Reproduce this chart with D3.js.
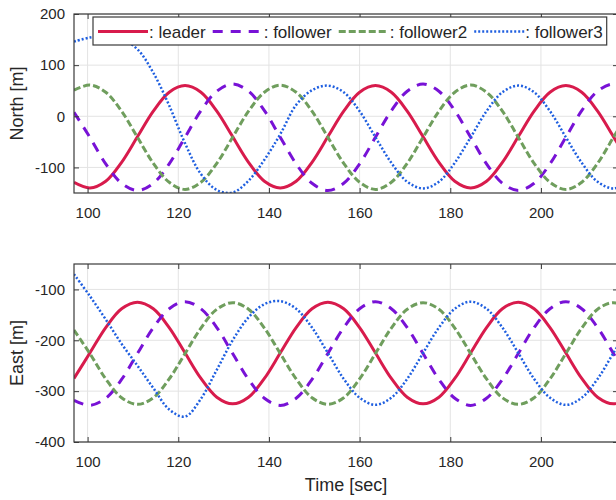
<!DOCTYPE html>
<html>
<head>
<meta charset="utf-8">
<script src="https://cdn.jsdelivr.net/npm/d3@7"></script>
<style>
  body { margin: 0; background: #fff; }
  text { font-family: "Liberation Sans", Arial, sans-serif; }
</style>
</head>
<body>
<script>

// time samples (sec)
var time = [97, 100.5, 104, 107.5, 111, 114.5, 118, 121.5, 125, 128.5, 132, 135.5,
            139, 142.5, 146, 149.5, 153, 156.5, 160, 163.5, 167, 170.5, 174, 177.5,
            181, 184.5, 188, 191.5, 195, 198.5, 202, 205.5, 209, 212.5, 216, 219.5];

// North [m]
var leaderNorth    = [-129, -140, -127, -90, -40, 10, 47, 60, 47, 10, -40, -90, -127, -140, -127, -90, -40, 10,
                      47, 60, 47, 10, -40, -90, -127, -140, -127, -90, -40, 10, 47, 60, 47, 10, -40, -90];
var followerNorth  = [8, -41, -93, -131, -145, -131, -93, -41, 11, 49, 63, 49, 11, -41, -93, -131, -145, -131,
                      -93, -41, 11, 49, 63, 49, 11, -41, -93, -131, -145, -131, -93, -41, 11, 49, 63, 49];
var follower2North = [51, 61, 47, 10, -41, -92, -129, -143, -129, -92, -41, 10, 47, 61, 47, 10, -41, -92,
                      -129, -143, -129, -92, -41, 10, 47, 61, 47, 10, -41, -92, -129, -143, -129, -92, -41, 10];
var follower3North = [146, 154, 157, 151, 131, 85, 21, -53, -113, -144, -149, -126, -85, -35, 22, 51, 60, 47,
                      10, -41, -91, -128, -141, -128, -91, -41, 10, 47, 60, 47, 10, -41, -91, -128, -141, -128];

// East [m]
var leaderEast    = [-275, -225, -175, -138, -125, -138, -175, -225, -275, -312, -325, -312, -275, -225, -175, -138, -125, -138,
                     -175, -225, -275, -312, -325, -312, -275, -225, -175, -138, -125, -138, -175, -225, -275, -312, -325, -312];
var followerEast  = [-318, -328, -314, -277, -226, -175, -138, -124, -138, -175, -226, -277, -314, -328, -314, -277, -226, -175,
                     -138, -124, -138, -175, -226, -277, -314, -328, -314, -277, -226, -175, -138, -124, -138, -175, -226, -277];
var follower2East = [-180, -226, -276, -313, -326, -313, -276, -226, -176, -139, -126, -139, -176, -226, -276, -313, -326, -313,
                     -276, -226, -176, -139, -126, -139, -176, -226, -276, -313, -326, -313, -276, -226, -176, -139, -126, -139];
var follower3East = [-70, -113, -159, -207, -250, -294, -336, -350, -315, -258, -200, -155, -129, -123, -138, -175, -225, -276,
                     -313, -327, -313, -276, -225, -175, -138, -124, -138, -175, -225, -276, -313, -327, -313, -276, -225, -175];

var names = [": leader", ": follower", ": follower2", ": follower3"];
var xTicks = [100, 120, 140, 160, 180, 200, 220];
var northTicks = [-100, 0, 100, 200];
var eastTicks = [-400, -300, -200, -100];

var width = 616, height = 500;
var left = 74, right = 618;

var styles = [
    {color: "#d81b4c", width: 3,   dash: null},
    {color: "#7812d6", width: 3,   dash: "10,8"},
    {color: "#6f9e5d", width: 3,   dash: "7,3"},
    {color: "#1f5fe0", width: 2.5, dash: "2,2"}
];

var panels = [
    {top: 14,  bottom: 193, domain: [-150, 200], ticks: northTicks, label: "North [m]",
     series: [leaderNorth, followerNorth, follower2North, follower3North]},
    {top: 264, bottom: 442, domain: [-400, -50], ticks: eastTicks, label: "East [m]",
     series: [leaderEast, followerEast, follower2East, follower3East]}
];

const svg = d3.select("body")
    .append("svg")
    .attr("width", width)
    .attr("height", height);

var x = d3.scaleLinear().domain([97, 217]).range([left, right]);

// plain hyphen minus like the original
var fmt = d => String(d);

panels.forEach(function(p, pi) {
    var y = d3.scaleLinear().domain(p.domain).range([p.bottom, p.top]);
    var g = svg.append("g");

    g.append("clipPath").attr("id", "clip" + pi)
        .append("rect")
        .attr("x", left).attr("y", p.top)
        .attr("width", right - left).attr("height", p.bottom - p.top);

    // grid
    g.append("g").selectAll("line")
        .data(xTicks)
        .join("line")
        .attr("x1", d => x(d)).attr("x2", d => x(d))
        .attr("y1", p.top).attr("y2", p.bottom)
        .style("stroke", "#e3e3e3");
    g.append("g").selectAll("line")
        .data(p.ticks)
        .join("line")
        .attr("x1", left).attr("x2", right)
        .attr("y1", d => y(d)).attr("y2", d => y(d))
        .style("stroke", "#e3e3e3");

    // data
    var line = d3.line()
        .x((d, i) => x(time[i]))
        .y(d => y(d))
        .curve(d3.curveCatmullRom.alpha(0.5));

    g.append("g")
        .attr("clip-path", "url(#clip" + pi + ")")
        .selectAll("path")
        .data(p.series)
        .join("path")
        .attr("d", d => line(d))
        .attr("fill", "none")
        .attr("stroke", (d, i) => styles[i].color)
        .attr("stroke-width", (d, i) => styles[i].width)
        .attr("stroke-dasharray", (d, i) => styles[i].dash);

    // axes, ticks pointing inward
    function styleAxis(a) {
        a.select(".domain").remove();
        a.selectAll(".tick line").attr("stroke", "#3a3a3a");
        a.selectAll("text")
            .attr("fill", "#262626")
            .style("font-size", "15px")
            .style("font-family", '"Liberation Sans", Arial, sans-serif');
    }
    g.append("g")
        .attr("transform", "translate(0," + p.bottom + ")")
        .call(d3.axisBottom(x).tickValues(xTicks.filter(d => d < 217)).tickSize(-5).tickPadding(14).tickFormat(fmt))
        .call(styleAxis);
    g.append("g")
        .attr("transform", "translate(0," + p.top + ")")
        .call(d3.axisTop(x).tickValues(xTicks.filter(d => d < 217)).tickSize(-5).tickFormat(""))
        .call(styleAxis);
    g.append("g")
        .attr("transform", "translate(" + left + ",0)")
        .call(d3.axisLeft(y).tickValues(p.ticks).tickSize(-5).tickPadding(9).tickFormat(fmt))
        .call(styleAxis);
    g.append("g")
        .attr("transform", "translate(" + right + ",0)")
        .call(d3.axisRight(y).tickValues(p.ticks).tickSize(-5).tickFormat(""))
        .call(styleAxis);

    g.append("rect")
        .attr("x", left).attr("y", p.top)
        .attr("width", right - left).attr("height", p.bottom - p.top)
        .attr("fill", "none")
        .attr("stroke", "#3a3a3a")
        .attr("stroke-width", 1.2);

    g.append("text")
        .attr("transform", "translate(17," + ((p.top + p.bottom) / 2) + ") rotate(-90)")
        .attr("dy", "0.35em")
        .attr("text-anchor", "middle")
        .attr("fill", "#262626")
        .style("font-size", "18px")
        .text(p.label);
});

svg.append("text")
    .attr("x", (left + right) / 2)
    .attr("y", 491)
    .attr("text-anchor", "middle")
    .attr("fill", "#262626")
    .style("font-size", "18px")
    .text("Time [sec]");

// legend
var legend = svg.append("g");
var box = legend.append("rect")
    .attr("x", 93).attr("y", 17)
    .attr("height", 28)
    .attr("fill", "#fff")
    .attr("stroke", "#3a3a3a")
    .attr("stroke-width", 1.2);

var lx = 98;
names.forEach(function(n, i) {
    legend.append("line")
        .attr("x1", lx).attr("x2", lx + 50)
        .attr("y1", 31.5).attr("y2", 31.5)
        .attr("stroke", styles[i].color)
        .attr("stroke-width", styles[i].width)
        .attr("stroke-dasharray", styles[i].dash);
    var t = legend.append("text")
        .attr("x", lx + 51)
        .attr("y", 37.5)
        .attr("fill", "#262626")
        .style("font-size", "17px")
        .text(n);
    lx += 51 + t.node().getComputedTextLength() + 7;
});
box.attr("width", lx - 93 - 3);

</script>
</body>
</html>
